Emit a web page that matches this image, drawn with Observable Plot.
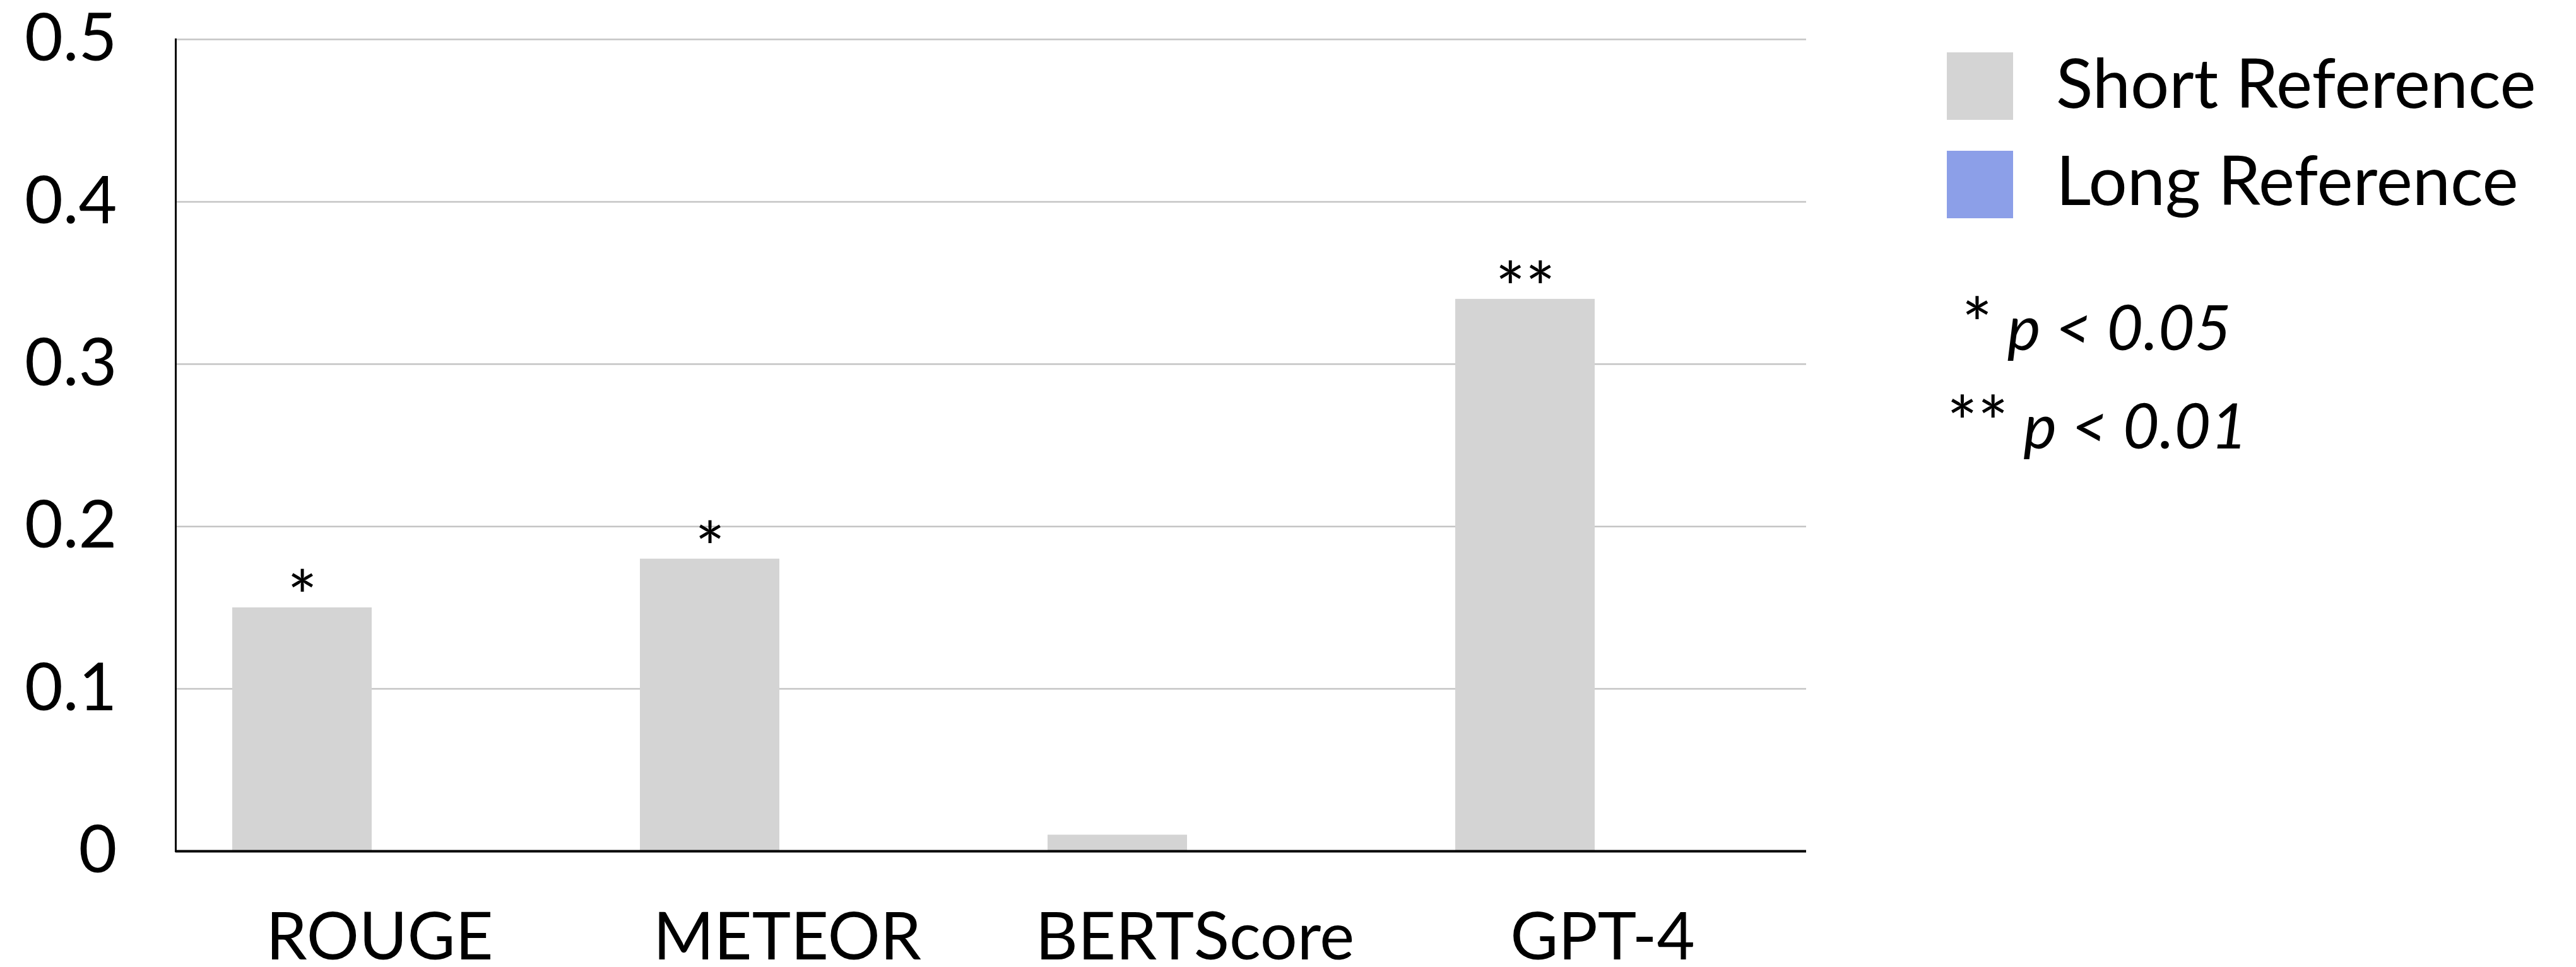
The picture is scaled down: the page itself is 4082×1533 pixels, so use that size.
<!DOCTYPE html>
<html>
<head>
<meta charset="utf-8">
<script src="https://cdn.jsdelivr.net/npm/d3@7"></script>
<script src="https://cdn.jsdelivr.net/npm/@observablehq/plot@0.6"></script>
<style>
  html, body { margin: 0; padding: 0; background: #fff; }
  #root { position: relative; width: 4082px; height: 1533px; overflow: hidden; font-family: Lato, "Open Sans", sans-serif; color: #000; }
  #chart { position: absolute; left: 0; top: 0; }
  .sw { position: absolute; width: 105px; height: 107px; }
  .lg { position: absolute; font-size: 108px; line-height: 108px; white-space: pre; }
  .pv { position: absolute; font-size: 100px; line-height: 100px; white-space: pre; font-style: italic; }
  .pv .ast { font-style: normal; font-size: 115px; }
</style>
</head>
<body>
<div id="root">
  <div id="chart"></div>
  <div id="legend"></div>
</div>
<script>
const categories = ["ROUGE", "METEOR", "BERTScore", "GPT-4"];
const series = ["Short Reference", "Long Reference"];
const shortValues = [0.15, 0.18, 0.01, 0.34];
const significance = ["*", "*", "", "**"];
const seriesColors = ["#d4d4d4", "#8c9fe8"];
const yTicks = [0, 0.1, 0.2, 0.3, 0.4, 0.5];
const yTickLabels = ["0", "0.1", "0.2", "0.3", "0.4", "0.5"];
const pNotes = [["*", " p < 0.05", " "], ["**", " p < 0.01", ""]];

const data = categories.map((c, i) => ({category: c, series: series[0], value: shortValues[i], sig: significance[i]}));

const chart = Plot.plot({
  width: 2900,
  height: 1533,
  marginLeft: 276,
  marginRight: 37,
  marginTop: 62,
  marginBottom: 184,
  style: {fontFamily: "Lato, 'Open Sans', sans-serif", color: "#000", background: "#fff", overflow: "visible"},
  fx: {domain: categories, padding: 0, label: null},
  x: {domain: series, paddingInner: 0.0976, paddingOuter: 0.362, axis: null},
  y: {domain: [0, 0.5], label: null},
  color: {domain: series, range: seriesColors},
  marks: [
    Plot.gridY(yTicks, {stroke: "#c4c4c4", strokeOpacity: 1, strokeWidth: 2.5}),
    Plot.axisY(yTicks, {tickSize: 0, tickPadding: 93, tickFormat: d => yTickLabels[yTicks.indexOf(d)], label: null, fontSize: 105}),
    Plot.axisFx({anchor: "bottom", tickSize: 0, tickPadding: 98, label: null, fontSize: 104}),
    Plot.barY(data, {fx: "category", x: "series", y: "value", fill: "series"}),
    Plot.text(data, {fx: "category", x: "series", y: "value", text: "sig", lineAnchor: "bottom", dy: 24, fontSize: 112, fill: "#000"}),
    Plot.ruleY([0], {stroke: "#000", strokeWidth: 4}),
    Plot.frame({anchor: "left", fx: () => categories[0], stroke: "#000", strokeWidth: 3})
  ]
});
document.getElementById("chart").appendChild(chart);

// legend (HTML, to the right of the SVG)
const legend = document.getElementById("legend");
const swTops = [83, 239];
const txtTops = [75, 229];
series.forEach((s, i) => {
  const sw = document.createElement("div");
  sw.className = "sw";
  sw.style.left = "3085px";
  sw.style.top = swTops[i] + "px";
  sw.style.background = seriesColors[i];
  legend.appendChild(sw);
  const t = document.createElement("div");
  t.className = "lg";
  t.style.left = "3258px";
  t.style.top = txtTops[i] + "px";
  t.textContent = s;
  legend.appendChild(t);
});
const pTops = [460, 616];
pNotes.forEach((p, i) => {
  const d = document.createElement("div");
  d.className = "pv";
  d.style.left = "3085px";
  d.style.top = pTops[i] + "px";
  const lead = document.createTextNode(p[2]);
  const a = document.createElement("span");
  a.className = "ast";
  a.textContent = p[0];
  const rest = document.createTextNode(p[1]);
  d.appendChild(lead); d.appendChild(a); d.appendChild(rest);
  legend.appendChild(d);
});
</script>
</body>
</html>
